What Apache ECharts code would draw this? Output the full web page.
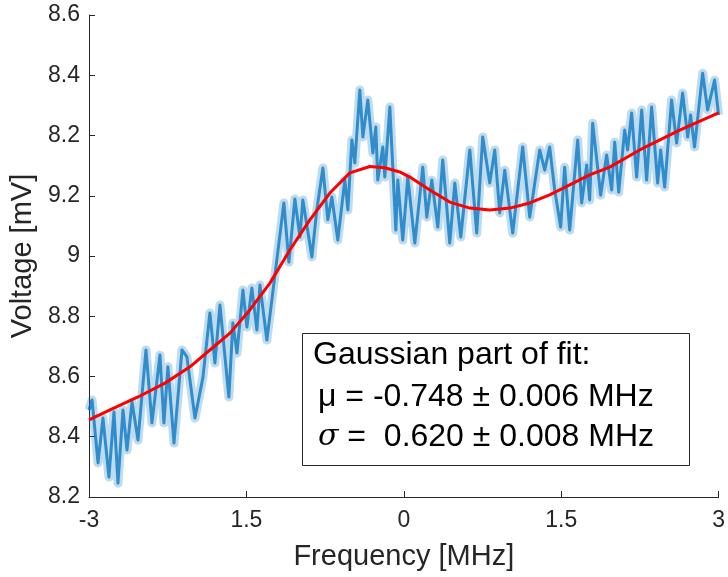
<!DOCTYPE html>
<html>
<head>
<meta charset="utf-8">
<script src="https://cdn.jsdelivr.net/npm/echarts@6/dist/echarts.min.js"></script>
<style>
html,body{margin:0;padding:0;background:#fff;}
#chart{width:728px;height:577px;}
</style>
</head>
<body>
<div id="chart"></div>
<script>
// Measured data (turning points of the noisy trace), frequency in MHz
var dataFreq = [-3.000,-2.971,-2.914,-2.867,-2.810,-2.762,-2.724,-2.676,-2.638,-2.590,-2.533,-2.457,-2.400,-2.324,-2.286,-2.248,-2.190,-2.114,-2.067,-1.990,-1.914,-1.848,-1.800,-1.752,-1.667,-1.629,-1.590,-1.533,-1.495,-1.448,-1.400,-1.371,-1.305,-1.210,-1.143,-1.095,-1.038,-0.990,-0.962,-0.876,-0.829,-0.771,-0.724,-0.686,-0.629,-0.562,-0.533,-0.495,-0.467,-0.419,-0.390,-0.343,-0.295,-0.267,-0.248,-0.200,-0.181,-0.133,-0.076,-0.057,-0.010,0.038,0.105,0.181,0.219,0.267,0.324,0.371,0.438,0.486,0.543,0.629,0.695,0.752,0.819,0.867,0.914,0.962,1.038,1.133,1.200,1.295,1.343,1.390,1.438,1.495,1.533,1.581,1.657,1.695,1.743,1.771,1.800,1.876,1.933,1.981,2.010,2.048,2.105,2.133,2.171,2.219,2.267,2.314,2.362,2.419,2.448,2.486,2.552,2.600,2.657,2.705,2.733,2.771,2.848,2.895,2.962,3.000];
var dataVolt = [8.489,8.522,8.313,8.462,8.266,8.482,8.246,8.489,8.356,8.515,8.389,8.688,8.446,8.671,8.446,8.632,8.379,8.688,8.665,8.462,8.598,8.811,8.645,8.837,8.532,8.778,8.678,8.887,8.764,8.894,8.754,8.904,8.721,8.987,9.176,8.980,9.189,9.063,9.186,8.997,9.153,9.292,9.120,9.196,9.053,9.252,9.153,9.385,9.309,9.551,9.395,9.518,9.342,9.428,9.252,9.362,9.262,9.495,9.086,9.252,9.053,9.262,9.043,9.295,9.129,9.252,9.096,9.319,9.043,9.242,9.063,9.352,9.076,9.395,9.242,9.352,9.143,9.285,9.076,9.362,9.129,9.352,9.285,9.362,9.219,9.096,9.295,9.086,9.385,9.176,9.302,9.186,9.441,9.202,9.335,9.219,9.378,9.212,9.418,9.352,9.475,9.262,9.485,9.252,9.495,9.242,9.352,9.229,9.518,9.375,9.541,9.395,9.468,9.362,9.607,9.485,9.584,9.468];

// Fit curve
var fitFreq = [-3.000,-2.800,-2.533,-2.276,-2.038,-1.848,-1.657,-1.467,-1.276,-1.086,-0.895,-0.705,-0.514,-0.324,-0.181,-0.038,0.057,0.248,0.438,0.629,0.819,1.010,1.200,1.390,1.581,1.771,1.962,2.248,2.629,3.000];
var fitVolt = [8.456,8.489,8.532,8.578,8.632,8.688,8.744,8.821,8.910,9.020,9.120,9.209,9.276,9.297,9.293,9.279,9.262,9.219,9.179,9.159,9.153,9.159,9.176,9.203,9.236,9.269,9.295,9.352,9.418,9.475];

// Tick labels as printed on the figure
var xTickLabels = ['-3','1.5','0','1.5','3'];
var yTickLabels = ['8.2','8.4','8.6','8.8','9','9.2','8.2','8.4','8.6'];

var FONT = "'Liberation Sans', Arial, Helvetica, sans-serif";
var TXT = '#262626';

function pairs(a, b){ return a.map(function(v,i){ return [v, b[i]]; }); }

var chart = echarts.init(document.getElementById('chart'), null, {renderer:'canvas'});
chart.setOption({
  animation: false,
  backgroundColor: '#ffffff',
  grid: {left: 89, right: 9, top: 15, bottom: 80, containLabel: false},
  xAxis: {
    type: 'value', min: -3, max: 3, interval: 1.5,
    name: 'Frequency [MHz]', nameLocation: 'middle', nameGap: 45,
    nameTextStyle: {fontFamily: FONT, fontSize: 29, color: TXT},
    axisLine: {onZero: false, lineStyle: {color: TXT, width: 1}},
    axisTick: {inside: true, length: 6, lineStyle: {color: TXT}},
    axisLabel: {fontFamily: FONT, fontSize: 23, color: TXT, margin: 12,
      formatter: function(v){ return xTickLabels[Math.round((v + 3) / 1.5)]; }},
    splitLine: {show: false}
  },
  yAxis: {
    type: 'value', min: 8.2, max: 9.8, interval: 0.2,
    name: 'Voltage [mV]', nameLocation: 'middle', nameGap: 45,
    nameTextStyle: {fontFamily: FONT, fontSize: 29, color: TXT},
    axisLine: {show: true, onZero: false, lineStyle: {color: TXT, width: 1}},
    axisTick: {show: true, inside: true, length: 6, lineStyle: {color: TXT}},
    axisLabel: {fontFamily: FONT, fontSize: 23, color: TXT, margin: 9,
      formatter: function(v){ return yTickLabels[Math.round((v - 8.2) / 0.2)]; }},
    splitLine: {show: false}
  },
  series: [
    {
      type: 'line', data: pairs(dataFreq, dataVolt), showSymbol: false, silent: true,
      lineStyle: {color: '#0072BD', width: 9, opacity: 0.25, join: 'round'}, z: 1
    },
    {
      type: 'line', data: pairs(dataFreq, dataVolt), showSymbol: false, silent: true,
      lineStyle: {color: '#0072BD', width: 3, opacity: 0.75, join: 'round'}, z: 2
    },
    {
      type: 'line', data: pairs(fitFreq, fitVolt), showSymbol: false, smooth: false, silent: true,
      lineStyle: {color: '#FF0000', width: 3, join: 'round'}, z: 3
    }
  ],
  graphic: [
    {type: 'rect', shape: {x: 302.5, y: 333.5, width: 387, height: 132},
     style: {fill: '#ffffff', stroke: '#262626', lineWidth: 1}, z: 10},
    {type: 'text', left: 313, top: 339, z: 11,
     style: {text: 'Gaussian part of fit:', font: '32px ' + FONT, fill: '#000'}},
    {type: 'text', left: 318, top: 381, z: 11,
     style: {text: 'μ = -0.748 ± 0.006 MHz', font: '32px ' + FONT, fill: '#000'}},
    {type: 'text', left: 318, top: 421, z: 11,
     style: {rich: {s: {font: 'italic 30px "DejaVu Serif", serif', fill: '#000'}, n: {font: '32px ' + FONT, fill: '#000'}},
             text: '{s|σ}{n| =  0.620 ± 0.008 MHz}'}}
  ]
});
</script>
</body>
</html>
